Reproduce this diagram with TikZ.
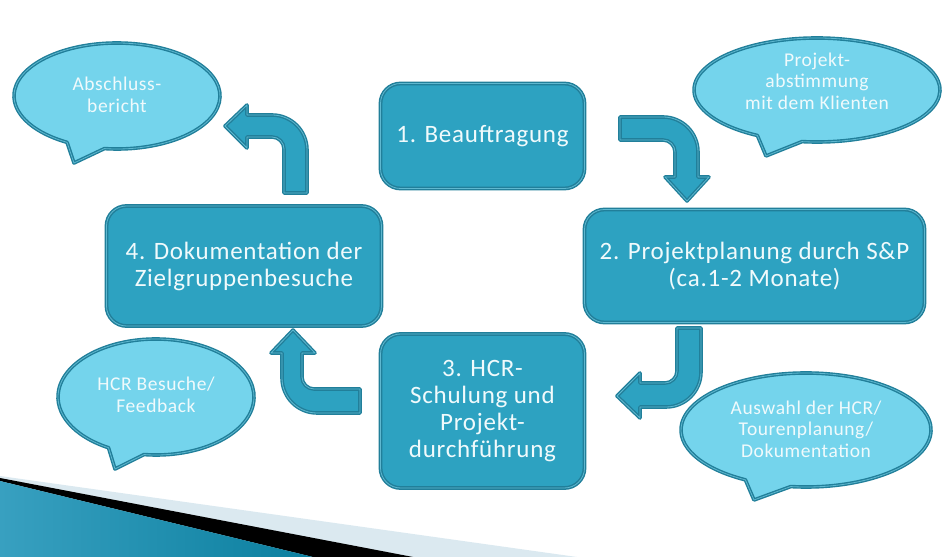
\documentclass[tikz,border=0pt]{standalone}
\usepackage{fontspec}
\setmainfont[LetterSpace=3]{Carlito}
\definecolor{boxfill}{HTML}{2DA2C1}
\definecolor{boxline}{HTML}{217F9A}
\definecolor{bubblefill}{HTML}{74D4EC}
\definecolor{rimlight}{HTML}{5FB8D0}
\definecolor{textlight}{HTML}{F0FAFC}
\definecolor{striplight}{HTML}{DBE9F0}
\definecolor{wedgeleft}{HTML}{38A0C0}
\definecolor{wedgemid}{HTML}{5AB4D4}
\definecolor{wedgeright}{HTML}{0B7F9F}
\tikzset{
	stepbox/.style={draw=boxline,fill=boxfill,line width=1.5pt,double=rimlight,double distance=.8pt,rounded corners=20pt,text=textlight,font=\fontsize{25}{27}\selectfont,align=center,inner sep=0pt},
	blockarrow/.style={draw=boxline,fill=boxfill,line width=1.4pt,double=rimlight,double distance=.8pt,line join=round},
	bubbleline/.style={draw=boxline,fill=bubblefill,line width=1.4pt,double=rimlight,double distance=.8pt,line join=round},
	bubbletext/.style={text=textlight,font=\fontsize{19.5}{21.5}\selectfont,align=center,inner sep=0pt}
}
% centre, x radius, y radius, tip
\newcommand{\bubble}[4]{\draw[bubbleline] (#1) ++(263:#2 and #3) arc[start angle=263,end angle=601,x radius=#2,y radius=#3] -- (#4) -- cycle;}
\begin{document}
\begin{tikzpicture}[x=1pt,y=1pt]
	\useasboundingbox (0,0) rectangle (951,557);
	% wedge at the bottom
	\fill[striplight] (0,81) -- (577,0) -- (0,0) -- cycle;
	\fill[black] (0,79) -- (413,0) -- (313,0) -- (0,76) -- cycle;
	\shade[left color=wedgeleft,middle color=wedgemid,right color=wedgeright] (0,76) -- (313,0) -- (0,0) -- cycle;
	% steps
	\node[stepbox,minimum width=204pt,minimum height=105pt] (beauftragung) at (482.5,421) {1. Beauftragung};
	\node[stepbox,minimum width=340pt,minimum height=113pt] (planung) at (754.5,291) {2. Projektplanung durch S\&P\\(ca.1-2 Monate)};
	\node[stepbox,minimum width=204pt,minimum height=154pt] (schulung) at (482.5,146) {3. HCR-\\Schulung und\\Projekt-\\durchführung};
	\node[stepbox,minimum width=275pt,minimum height=120pt] (doku) at (244,291) {4. Dokumentation der\\Zielgruppenbesuche};
	% arrows between the steps
	\draw[blockarrow] (620,440) -- (663,440) arc[start angle=90,end angle=0,radius=35] -- (698,380) -- (709,380) -- (687,356) -- (665,380) -- (675,380) -- (675,405) arc[start angle=0,end angle=90,radius=12] -- (620,417) -- cycle;
	\draw[blockarrow] (701,229) -- (701,185) arc[start angle=0,end angle=-90,radius=35] -- (640,150) -- (640,139) -- (617,161) -- (640,184) -- (640,174) -- (665,174) arc[start angle=-90,end angle=0,radius=12] -- (677,229) -- cycle;
	\draw[blockarrow] (360,144) -- (317,144) arc[start angle=-90,end angle=-180,radius=35] -- (282,204) -- (271,204) -- (293,227) -- (315,204) -- (302,204) -- (302,180) arc[start angle=180,end angle=270,radius=12] -- (360,168) -- cycle;
	\draw[blockarrow] (307,364) -- (307,407) arc[start angle=0,end angle=90,radius=35] -- (247,442) -- (247,452) -- (225,431) -- (247,409) -- (247,420) -- (272,420) arc[start angle=90,end angle=0,radius=12] -- (284,364) -- cycle;
	% callouts
	\bubble{117,461}{103}{53}{74,394}
	\bubble{817,467}{123}{52}{766,401}
	\bubble{806,127}{125}{57}{754,57}
	\bubble{156,160}{98}{58}{115,88}
	\node[bubbletext] (abschluss) at (117,462) {Abschluss-\\bericht};
	\node[bubbletext] (abstimmung) at (817,476) {Projekt-\\abstimmung\\mit dem Klienten};
	\node[bubbletext] (auswahl) at (806,128) {Auswahl der HCR/\\Tourenplanung/\\Dokumentation};
	\node[bubbletext] (besuche) at (156,162) {HCR Besuche/\\Feedback};
\end{tikzpicture}
\end{document}
